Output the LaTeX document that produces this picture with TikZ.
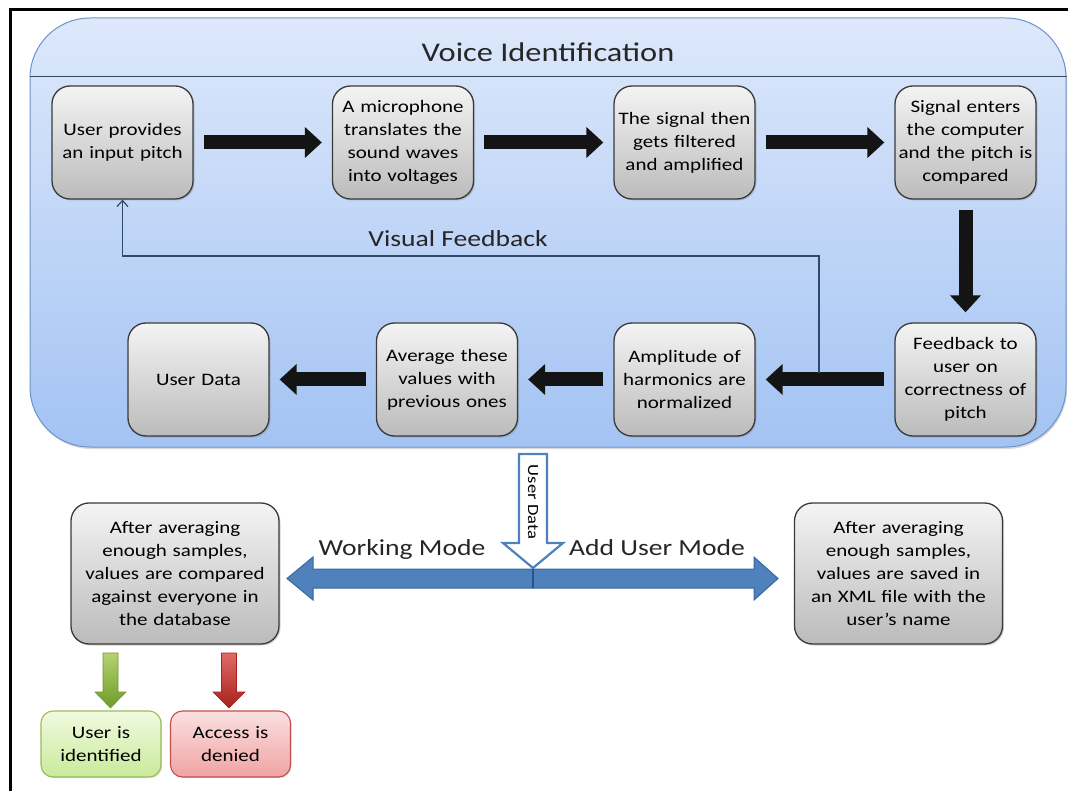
\documentclass[tikz,border=0pt]{standalone}
\usepackage{fontspec}
\setmainfont{Carlito}[FakeStretch=1.2]
\usetikzlibrary{arrows.meta,shadows,calc}

\definecolor{panelTop}{HTML}{DDE8FB}
\definecolor{panelBot}{HTML}{A3C3F3}
\definecolor{panelEdge}{HTML}{6D92C9}
\definecolor{ruleCol}{HTML}{34485F}
\definecolor{boxEdge}{HTML}{3A3A3A}
\definecolor{boxTop}{HTML}{F4F4F4}
\definecolor{boxBot}{HTML}{BBBBBB}
\definecolor{modeBlue}{HTML}{4F81BD}
\definecolor{modeEdge}{HTML}{3A679E}
\definecolor{okTop}{HTML}{F1FADF}
\definecolor{okBot}{HTML}{C9EA9C}
\definecolor{okEdge}{HTML}{9BBB59}
\definecolor{okArrowTop}{HTML}{B5D36E}
\definecolor{okArrowBot}{HTML}{6F9A2A}
\definecolor{noTop}{HTML}{FBE0E0}
\definecolor{noBot}{HTML}{F0A3A3}
\definecolor{noEdge}{HTML}{C0504D}
\definecolor{noArrowTop}{HTML}{E06A66}
\definecolor{noArrowBot}{HTML}{A8201C}
\definecolor{fbCol}{HTML}{2E4A6A}

\begin{document}
\begin{tikzpicture}[x=1pt,y=-1pt,
  boxtext/.style={font=\fontsize{17.5}{23}\selectfont},
  stepbox/.style={rectangle, rounded corners=18pt, draw=boxEdge, line width=1.3pt,
    top color=boxTop, bottom color=boxBot, minimum width=141pt, minimum height=113pt,
    text width=135pt, inner sep=3pt, align=center, boxtext,
    drop shadow={shadow xshift=1.5pt, shadow yshift=-1.5pt, opacity=.35}},
  bigbox/.style={stepbox, minimum width=208pt, minimum height=141pt, text width=202pt},
  resultbox/.style={rectangle, rounded corners=12pt, line width=1.1pt,
    minimum width=120pt, minimum height=66pt, text width=114pt, inner sep=3pt,
    align=center, boxtext,
    drop shadow={shadow xshift=1.2pt, shadow yshift=-1.2pt, opacity=.25}},
  flow/.style={line width=14pt, draw=black!92, shorten <=10pt, shorten >=10pt,
    -{Triangle[length=17pt,width=30pt]}},
  fbline/.style={draw=fbCol, line width=1.2pt, -{Straight Barb[length=6pt,width=11pt]}},
  label/.style={font=\fontsize{23}{28}\selectfont, text=black!85, inner sep=0pt},
]
\useasboundingbox (0,0) rectangle (1068,791);

% outer frame
\draw[line width=3pt] (10,791) -- (10,10) -- (1068,10);

% voice identification panel
\node[rectangle, rounded corners=60pt, minimum width=1036pt, minimum height=429pt,
      top color=panelTop, bottom color=panelBot, draw=panelEdge, line width=1pt,
      drop shadow={shadow xshift=1pt, shadow yshift=-2pt, opacity=.3}] (panel) at (548,232.5) {};
\node[font=\fontsize{27}{32}\selectfont, text=black!85, anchor=base, inner sep=0pt] (title) at (548,62) {Voice Identification};
\draw[ruleCol, line width=1pt] (panel.west |- 0,77) -- (panel.east |- 0,77);

% processing steps
\node[stepbox] (b1) at (122.5,142.5) {User provides\\an input pitch};
\node[stepbox] (b2) at (403,142.5) {A microphone\\translates the\\sound waves\\into voltages};
\node[stepbox] (b3) at (684.5,142.5) {The signal then\\gets filtered\\and amplified};
\node[stepbox] (b4) at (965.5,142.5) {Signal enters\\the computer\\and the pitch is\\compared};
\node[stepbox] (b5) at (965.5,379.5) {Feedback to\\user on\\correctness of\\pitch};
\node[stepbox] (b6) at (684.5,379.5) {Amplitude of\\harmonics are\\normalized};
\node[stepbox] (b7) at (447,379.5) {Average these\\values with\\previous ones};
\node[stepbox] (b8) at (198.5,379.5) {User Data};

\draw[flow] (b1) -- (b2);
\draw[flow] (b2) -- (b3);
\draw[flow] (b3) -- (b4);
\draw[flow] (b4) -- (b5);
\draw[flow] (b5) -- (b6);
\draw[flow] (b6) -- (b7);
\draw[flow] (b7) -- (b8);

% visual feedback loop
\coordinate (tap) at (819,373);
\coordinate (fbrow) at (0,256);
\draw[fbline] (tap) -- (tap |- fbrow) -| (b1.south);
\node[label, anchor=base] (fbtext) at (458,247) {Visual Feedback};

% user data handed to the two modes
\coordinate (split) at (533,578.5);
\draw[modeEdge, line width=1pt, fill=modeBlue]
  (533,569) -- (313,569) -- (313,557) -- (287,578.5) -- (313,600) -- (313,588) -- (533,588) -- cycle;
\draw[modeEdge, line width=1pt, fill=modeBlue]
  (533,569) -- (754,569) -- (754,557) -- (778,578.5) -- (754,600) -- (754,588) -- (533,588) -- cycle;
\draw[modeEdge!80!black, line width=1.6pt] (533,569) -- (533,588);
\draw[modeBlue, line width=2.2pt, fill=white, line join=miter]
  (519,454) -- (519,543) -- (503,543) -- (533,568) -- (563,543) -- (547,543) -- (547,454) -- cycle;
\node[rotate=-90, font=\fontsize{15.5}{18}\selectfont, inner sep=0pt] (udtext) at (533,502) {User Data};

\node[label, anchor=base] (working) at (402,555) {Working Mode};
\node[label, anchor=base] (adduser) at (657,555) {Add User Mode};

\node[bigbox] (cmp) at (175,573.5) {After averaging\\enough samples,\\values are compared\\against everyone in\\the database};
\node[bigbox] (xml) at (898.5,573.5) {After averaging\\enough samples,\\values are saved in\\an XML file with the\\user’s name};

% outcomes
\node[resultbox, draw=okEdge, top color=okTop, bottom color=okBot] (ok) at (101,744) {User is\\identified};
\node[resultbox, draw=noEdge, top color=noTop, bottom color=noBot] (no) at (230.5,744) {Access is\\denied};

\draw[okArrowBot, line width=.6pt, top color=okArrowTop, bottom color=okArrowBot]
  (103,653) -- (118,653) -- (118,692) -- (126,692) -- (110.5,708) -- (95,692) -- (103,692) -- cycle;
\draw[noArrowBot, line width=.6pt, top color=noArrowTop, bottom color=noArrowBot]
  (221.5,653) -- (236.5,653) -- (236.5,692) -- (245,692) -- (229,708) -- (213,692) -- (221.5,692) -- cycle;
\end{tikzpicture}
\end{document}
